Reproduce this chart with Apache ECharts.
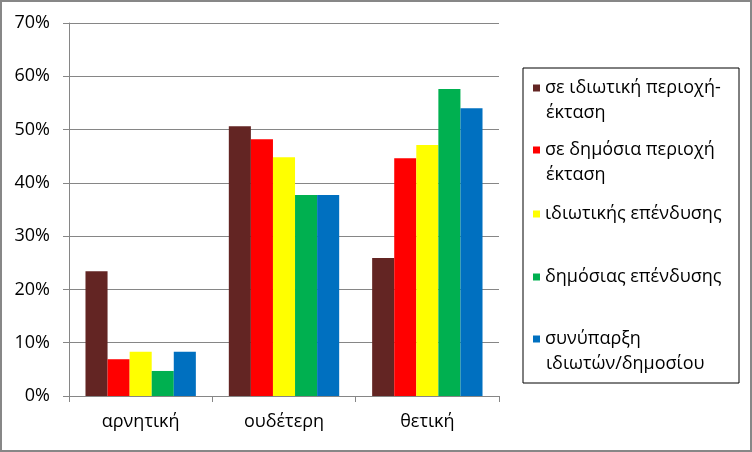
<!DOCTYPE html>
<html>
<head>
<meta charset="utf-8">
<script src="https://cdn.jsdelivr.net/npm/echarts@6/dist/echarts.min.js"></script>
<style>
  html, body { margin: 0; padding: 0; background: #fff; }
  #chart { width: 752px; height: 452px; box-sizing: border-box; border: 2px solid #878787; }
</style>
</head>
<body>
<div id="chart"></div>
<script>
// categories and series data (values in %)
const categories = ['αρνητική', 'ουδέτερη', 'θετική'];
const seriesNames = [
    'σε ιδιωτική περιοχή-έκταση',
    'σε δημόσια περιοχή έκταση',
    'ιδιωτικής επένδυσης',
    'δημόσιας επένδυσης',
    'συνύπαρξη ιδιωτών/δημοσίου'
];
// legend text, split in first and second line
const legendFirstLines = ['σε ιδιωτική περιοχή-', 'σε δημόσια περιοχή', 'ιδιωτικής επένδυσης', 'δημόσιας επένδυσης', 'συνύπαρξη'];
const legendSecondLines = ['έκταση', 'έκταση', '', '', 'ιδιωτών/δημοσίου'];
const privateArea = [23.4, 50.6, 25.9];
const publicArea = [6.9, 48.2, 44.6];
const privateInvest = [8.3, 44.8, 47.1];
const publicInvest = [4.7, 37.7, 57.6];
const coexist = [8.3, 37.7, 54.0];
const colors = ['#632523', '#ff0000', '#ffff00', '#00b050', '#0070c0'];
const yTicks = [0, 10, 20, 30, 40, 50, 60, 70];

const FONT = 'Open Sans';
const FONT_SIZE = 18;
const allValues = [privateArea, publicArea, privateInvest, publicInvest, coexist];
// centre of the first legend line, per item (canvas coords)
const legendCenters = [86, 148, 212, 275, 337];
const LINE_GAP = 25;

const chartDom = document.getElementById('chart');
const myChart = echarts.init(chartDom, null, { renderer: 'canvas' });

// second lines of the wrapped legend entries
const secondLineTexts = [];
legendSecondLines.forEach((txt, i) => {
    if (!txt) return;
    secondLineTexts.push({
        type: 'text',
        left: 544,
        top: legendCenters[i] + LINE_GAP - 13,
        style: {
            text: txt,
            fill: '#000',
            font: FONT_SIZE + 'px "' + FONT + '"',
            lineHeight: 26,
            verticalAlign: 'top'
        }
    });
});

const option = {
    animation: false,
    color: colors,
    grid: { left: 67, right: 251, top: 21, bottom: 54 },
    xAxis: {
        type: 'category',
        data: categories,
        axisLine: { lineStyle: { color: '#868686', width: 1 } },
        axisTick: { show: true, length: 6, lineStyle: { color: '#868686' } },
        axisLabel: { color: '#000', fontFamily: FONT, fontSize: FONT_SIZE, margin: 17 }
    },
    yAxis: {
        type: 'value',
        min: 0,
        max: 70,
        interval: 10,
        axisLine: { show: true, lineStyle: { color: '#868686', width: 1 } },
        axisTick: { show: true, length: 6, lineStyle: { color: '#868686' } },
        splitLine: { lineStyle: { color: '#868686', width: 1 } },
        axisLabel: {
            color: '#000', fontFamily: FONT, fontSize: FONT_SIZE, margin: 19,
            formatter: v => yTicks.includes(v) ? v + '%' : ''
        }
    },
    legend: seriesNames.map((name, i) => ({
        data: [name],
        left: 531,
        top: legendCenters[i] - 13,
        padding: 0,
        itemWidth: 7,
        itemHeight: 7,
        icon: 'rect',
        selectedMode: false,
        formatter: () => legendFirstLines[i],
        textStyle: { color: '#000', fontFamily: FONT, fontSize: FONT_SIZE, lineHeight: 26 }
    })),
    graphic: [{
        type: 'rect',
        shape: { x: 521, y: 66, width: 216, height: 315 },
        style: { fill: 'none', stroke: '#000', lineWidth: 1 }
    }].concat(secondLineTexts),
    series: seriesNames.map((name, i) => ({
        name: name,
        type: 'bar',
        data: allValues[i],
        barGap: '0%',
        barCategoryGap: '23%',
        itemStyle: { color: colors[i] }
    }))
};

myChart.setOption(option);
</script>
</body>
</html>
